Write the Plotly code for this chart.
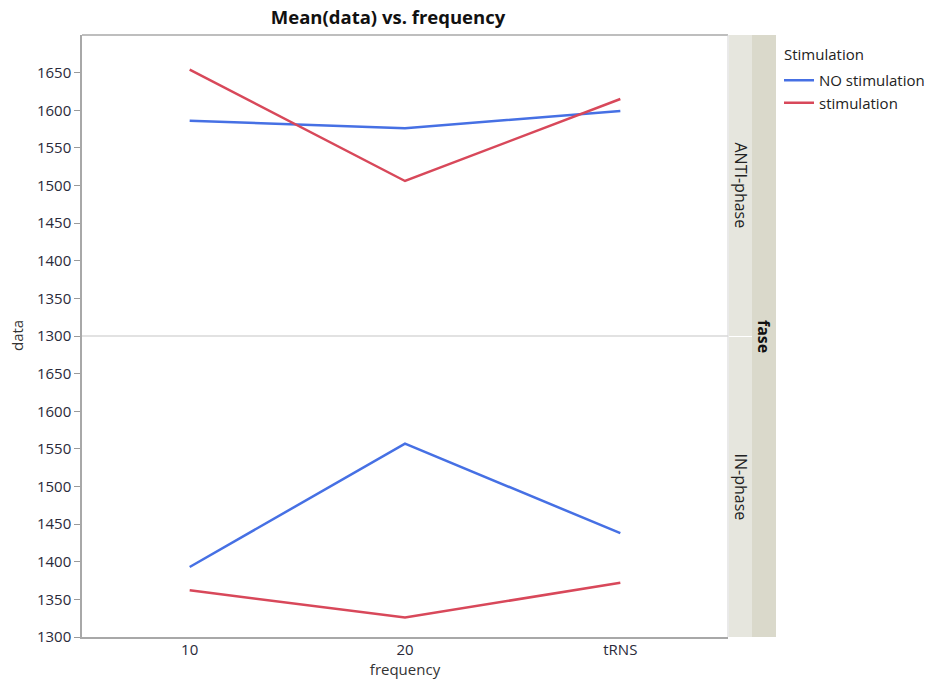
import plotly.graph_objects as go

frequency = ["10", "20", "tRNS"]
anti_no_stim = [1586, 1576, 1599]
anti_stim = [1654, 1506, 1615]
in_no_stim = [1393, 1557, 1438]
in_stim = [1362, 1326, 1372]
y_ticks = [1300, 1350, 1400, 1450, 1500, 1550, 1600, 1650]

BLUE = "rgb(70,112,228)"
RED = "rgb(216,72,90)"
FONT = "Open Sans"

fig = go.Figure()
fig.add_trace(go.Scatter(x=frequency, y=anti_no_stim, mode="lines", name="NO stimulation",
                         line=dict(color=BLUE, width=2.5), xaxis="x", yaxis="y", legendgroup="a"))
fig.add_trace(go.Scatter(x=frequency, y=anti_stim, mode="lines", name="stimulation",
                         line=dict(color=RED, width=2.5), xaxis="x", yaxis="y", legendgroup="b"))
fig.add_trace(go.Scatter(x=frequency, y=in_no_stim, mode="lines", name="NO stimulation",
                         line=dict(color=BLUE, width=2.5), xaxis="x", yaxis="y2", showlegend=False, legendgroup="a"))
fig.add_trace(go.Scatter(x=frequency, y=in_stim, mode="lines", name="stimulation",
                         line=dict(color=RED, width=2.5), xaxis="x", yaxis="y2", showlegend=False, legendgroup="b"))

W, H = 925, 682
L, R, T, B = 82, 728, 35, 637
pw = R - L
ph = B - T

def px(xpix):
    return (xpix - L) / pw

def py(ypix):
    return (B - ypix) / ph

tickfont = dict(family=FONT, size=15, color="#2a2a3a")
yax = dict(range=[1300, 1700], tickvals=y_ticks, ticks="outside", ticklen=6, tickcolor="#9a9a9a",
           showgrid=False, zeroline=False, showline=True, linecolor="#a8a8a8", linewidth=1.5,
           tickfont=tickfont, anchor="x")

shapes = []
# strips
shapes.append(dict(type="rect", xref="paper", yref="paper", x0=px(729), x1=px(752), y0=py(336), y1=1,
                   fillcolor="#e6e6de", line=dict(width=0), layer="below"))
shapes.append(dict(type="rect", xref="paper", yref="paper", x0=px(729), x1=px(752), y0=0, y1=py(337),
                   fillcolor="#e6e6de", line=dict(width=0), layer="below"))
shapes.append(dict(type="rect", xref="paper", yref="paper", x0=px(752), x1=px(776), y0=0, y1=1,
                   fillcolor="#dad9cb", line=dict(width=0), layer="below"))
# panel borders
shapes.append(dict(type="line", xref="paper", yref="paper", x0=0, x1=1, y0=1, y1=1,
                   line=dict(color="#a8a8a8", width=1.5)))
shapes.append(dict(type="line", xref="paper", yref="paper", x0=1, x1=1, y0=0, y1=1,
                   line=dict(color="#d4d4d4", width=1)))
shapes.append(dict(type="line", xref="paper", yref="paper", x0=0, x1=1, y0=0.5, y1=0.5,
                   line=dict(color="#d8d8d8", width=1.5)))

def ann(text, x, y, size, angle, color="#222"):
    return dict(text=text, xref="paper", yref="paper", x=x, y=y, showarrow=False,
                xanchor="center", yanchor="middle", textangle=angle,
                font=dict(family=FONT, size=size, color=color))

annotations = [
    ann("ANTI-phase", px(740.5), py(185), 16, 90),
    ann("IN-phase", px(740.5), py(487), 16, 90),
    ann("<b>fase</b>", px(764), py(336), 16, 90, "#111"),
    ann("data", px(17), py(336), 15, -90, "#333"),
    dict(text="Stimulation", xref="paper", yref="paper", x=px(782), y=py(54), showarrow=False,
         xanchor="left", yanchor="middle", font=dict(family=FONT, size=15, color="#222")),
]

fig.update_layout(
    width=W, height=H,
    margin=dict(l=L, r=W - R, t=T, b=H - B, pad=0, autoexpand=False),
    paper_bgcolor="white", plot_bgcolor="white",
    title=dict(text="<b>Mean(data) vs. frequency</b>", x=px(388), xanchor="center", xref="paper",
               y=1 - 18 / H, yanchor="middle", font=dict(family=FONT, size=18.5, color="#111")),
    xaxis=dict(type="category", range=[-0.5, 2.5], ticks="", showgrid=False, zeroline=False,
               showline=True, linecolor="#a8a8a8", linewidth=1.5, tickfont=tickfont, anchor="y2",
               ticklabelstandoff=-2,
               title=dict(text="frequency", font=dict(family=FONT, size=15, color="#333"), standoff=0)),
    yaxis=dict(domain=[0.5, 1], **yax),
    yaxis2=dict(domain=[0, 0.5], **yax),
    shapes=shapes,
    annotations=annotations,
    legend=dict(x=px(779), y=py(64), xanchor="left", yanchor="top",
                font=dict(family=FONT, size=15, color="#222"), itemwidth=30,
                tracegroupgap=0, bgcolor="rgba(0,0,0,0)"),
    showlegend=True,
)

fig.write_html("out.html")
